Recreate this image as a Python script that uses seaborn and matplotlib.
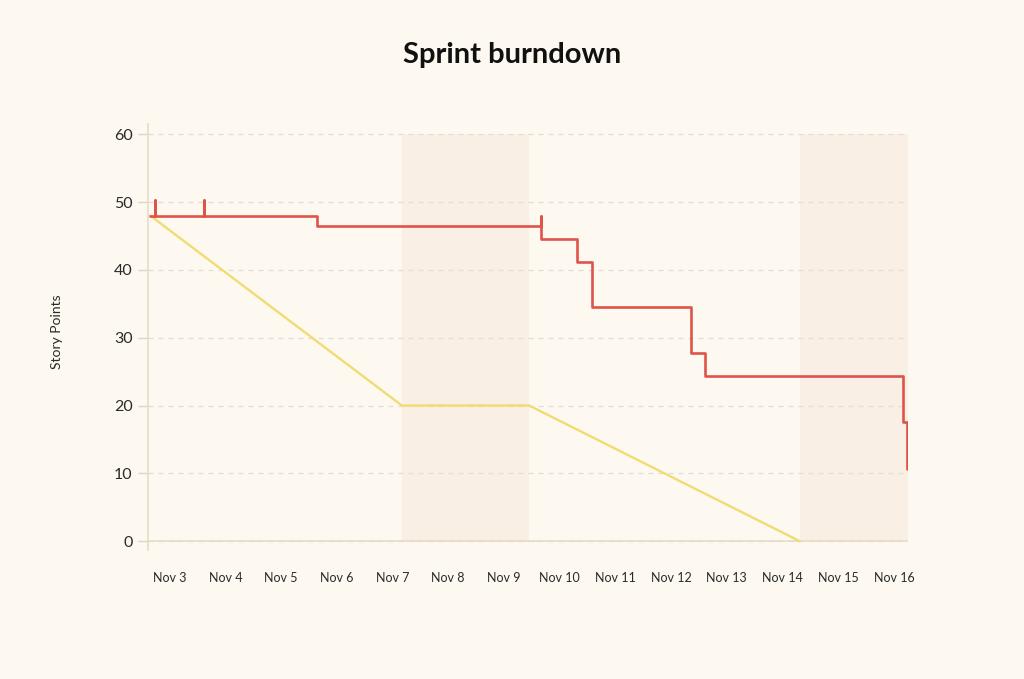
import matplotlib
matplotlib.use("Agg")
import matplotlib.pyplot as plt
import seaborn as sns
import numpy as np
import pandas as pd

# Data (x in days from Nov 3 00:00)
day_labels = ["Nov 3", "Nov 4", "Nov 5", "Nov 6", "Nov 7", "Nov 8", "Nov 9",
              "Nov 10", "Nov 11", "Nov 12", "Nov 13", "Nov 14", "Nov 15", "Nov 16"]
actual_t = [0, 0.09, 0.09, 1.0, 1.0, 3.08, 7.22, 7.22, 7.88, 8.16, 10.0, 10.25, 13.9, 13.98]
actual_pts = [48, 50.3, 48, 50.3, 48, 46.5, 48, 44.6, 41.2, 34.5, 27.7, 24.3, 17.6, 10.7]
ideal_t = [0, 4.65, 7.0, 12.0]
ideal_pts = [48, 20, 20, 0]
weekends = [(4.65, 7.0), (12.0, 14.0)]

BG = "#fdf9f1"
SHADE = "#f9efe5"
RED = "#df5449"
YELLOW = "#f0dc72"

sns.set_theme(style="white")
plt.rcParams['font.family'] = ['Lato', 'DejaVu Sans']

fig = plt.figure(figsize=(10.24, 6.79), dpi=100, facecolor=BG)
ax = fig.add_axes([148/1024, 1 - 550/679, (908 - 148)/1024, (550 - 124)/679])
ax.set_facecolor(BG)

for a, b in weekends:
    ax.fill_between([a, b], 0, 60, color=SHADE, linewidth=0, zorder=0)

ax.axhline(0, color="#e6dcc6", lw=1.2, zorder=1)

df_a = pd.DataFrame({"t": actual_t, "pts": actual_pts})
df_i = pd.DataFrame({"t": ideal_t, "pts": ideal_pts})
sns.lineplot(data=df_i, x="t", y="pts", estimator=None, sort=False, color=YELLOW,
             lw=1.7, ax=ax, zorder=3)
sns.lineplot(data=df_a, x="t", y="pts", estimator=None, sort=False, color=RED,
             lw=1.9, drawstyle="steps-post", ax=ax, zorder=4)

ax.set_xlim(-0.04, 14.0)
ax.set_ylim(-1.3, 61.5)
ax.set_yticks([0, 10, 20, 30, 40, 50, 60])
ax.yaxis.grid(True, color="#e2ddd5", linestyle=(0, (4, 4)), lw=0.9)
ax.set_axisbelow(True)
ax.tick_params(axis="y", length=7, color="#ddd5c4", width=1, labelsize=11.5,
               labelcolor="#2a2a2a", pad=4, left=True)
ax.set_xticks(np.linspace(0.36, 13.74, len(day_labels)))
ax.set_xticklabels(day_labels)
ax.tick_params(axis="x", length=0, labelsize=9, labelcolor="#2a2a2a", pad=16)

for s in ["top", "right", "bottom"]:
    ax.spines[s].set_visible(False)
ax.spines["left"].set_color("#e6dcc6")
ax.spines["left"].set_linewidth(1.2)

ax.set_xlabel("")
ax.set_ylabel("")
fig.text(57/1024, 1 - 332/679, "Story Points", rotation=90, ha="center", va="center",
         fontsize=10, color="#2a2a2a")
fig.text(512/1024, 1 - 55/679, "Sprint burndown", ha="center", va="center",
         fontsize=21, fontweight="bold", color="#111111")

fig.savefig("out.png", dpi=100, facecolor=BG)
